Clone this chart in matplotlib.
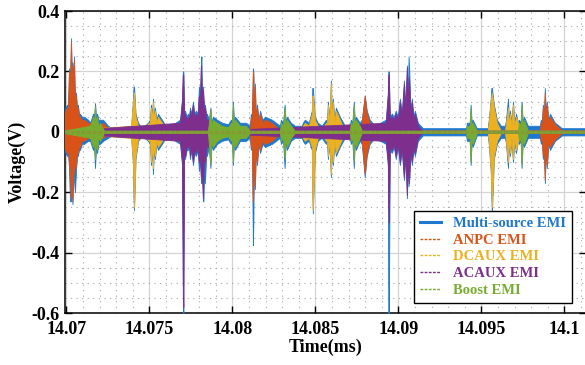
import numpy as np
import matplotlib
matplotlib.use("Agg")
import matplotlib.pyplot as plt
from matplotlib.lines import Line2D
from matplotlib.ticker import FixedLocator, MultipleLocator

plt.rcParams["font.family"] = ["Liberation Serif", "DejaVu Serif"]
plt.rcParams["font.weight"] = "bold"
plt.rcParams["axes.unicode_minus"] = False

# time origin (ms); times below are offsets in microseconds
T0 = 14.07

# waveform envelopes: (time offset us, upper V, lower V)
multi_env = [
    (-0.15, .07, -.06), (0.03, .09, -.08), (0.09, .08, -.07), (0.15, .21, -.12), (0.21, .16, -.23),
    (0.27, .31, -.23), (0.32, .19, -.19), (0.36, .23, -.24), (0.41, .16, -.13), (0.45, .25, -.16),
    (0.51, .11, -.20), (0.57, .13, -.13), (0.63, .08, -.08), (0.69, .09, -.08), (0.75, .06, -.06),
    (0.81, .06, -.06), (0.93, .05, -.04), (1.05, .05, -.04), (1.30, .04, -.03), (1.42, .03, -.03),
    (1.60, .06, -.06), (1.66, .05, -.05), (1.72, .095, -.12), (1.78, .05, -.05), (1.84, .06, -.07),
    (1.93, .04, -.04), (2.02, .04, -.04), (2.20, .04, -.03), (2.50, .02, -.02), (2.74, .012, -.012),
    (3.89, .012, -.012), (4.01, .11, -.11), (4.04, .15, -.22), (4.07, .15, -.26), (4.16, .06, -.09),
    (4.31, .03, -.03), (4.55, .012, -.012),
    (4.91, .03, -.03), (5.03, .04, -.04), (5.09, .09, -.11), (5.15, .05, -.05), (5.21, .11, -.14),
    (5.27, .05, -.05), (5.33, .08, -.09), (5.42, .04, -.04), (5.51, .06, -.06), (5.75, .04, -.04),
    (6.06, .012, -.012),
    (6.84, .04, -.04), (6.96, .11, -.11), (7.01, .20, -.55), (7.04, .20, -.60), (7.08, .07, -.08),
    (7.14, .07, -.09), (7.24, .05, -.06), (7.32, .06, -.06), (7.38, .05, -.05), (7.44, .08, -.09),
    (7.52, .06, -.06), (7.62, .10, -.11), (7.70, .06, -.07), (7.80, .07, -.08), (7.90, .06, -.06),
    (7.98, .15, -.13), (8.04, .11, -.09), (8.10, .23, -.16), (8.13, .25, -.17), (8.16, .13, -.13),
    (8.22, .15, -.23), (8.25, .12, -.23), (8.30, .08, -.10), (8.34, .09, -.17), (8.43, .05, -.06),
    (8.46, .06, -.08), (8.58, .04, -.05), (8.67, .08, -.12), (8.74, .03, -.04), (8.82, .05, -.06),
    (9.07, .04, -.04), (9.37, .03, -.03), (9.73, .025, -.025), (9.91, .04, -.04), (9.97, .03, -.03),
    (10.03, .10, -.11), (10.09, .03, -.03), (10.15, .05, -.06), (10.45, .03, -.03), (10.81, .03, -.03),
    (11.05, .02, -.02), (11.11, .06, -.06), (11.17, .04, -.04), (11.23, .21, -.375), (11.26, .20, -.30),
    (11.29, .07, -.07), (11.35, .16, -.19), (11.41, .05, -.06), (11.48, .09, -.11), (11.57, .04, -.04),
    (11.66, .07, -.07), (11.81, .04, -.04), (11.96, .05, -.05), (12.38, .04, -.04), (12.86, .02, -.02),
    (12.92, .04, -.04), (13.05, .03, -.03), (13.14, .09, -.12), (13.21, .03, -.03), (13.28, .05, -.06),
    (13.52, .03, -.03), (13.76, .02, -.02),
    (14.18, .02, -.02), (14.24, .03, -.03), (14.36, .04, -.04), (14.60, .03, -.03), (14.78, .07, -.06),
    (14.81, .145, -.20), (14.84, .145, -.27), (14.96, .05, -.07), (15.14, .03, -.03), (15.38, .02, -.02),
    (15.63, .04, -.04), (15.69, .03, -.03), (15.75, .10, -.09), (15.84, .04, -.04), (15.93, .17, -.15),
    (15.99, .05, -.05), (16.05, .11, -.11), (16.14, .04, -.04), (16.23, .08, -.08), (16.47, .05, -.05),
    (16.77, .02, -.02),
    (17.07, .02, -.02), (17.13, .04, -.04), (17.22, .03, -.03), (17.31, .10, -.12), (17.37, .03, -.03),
    (17.43, .05, -.06), (17.67, .03, -.03), (17.79, .04, -.04), (17.97, .12, -.15), (18.09, .07, -.08),
    (18.27, .04, -.04), (18.57, .02, -.02),
    (19.24, .04, -.04), (19.36, .13, -.11), (19.39, .20, -.62), (19.42, .20, -.62), (19.48, .05, -.06),
    (19.60, .06, -.07), (19.72, .05, -.05), (19.84, .07, -.09), (19.96, .05, -.05), (20.09, .11, -.11),
    (20.20, .06, -.06), (20.33, .17, -.16), (20.42, .08, -.08), (20.51, .22, -.22), (20.57, .10, -.10),
    (20.61, .25, -.18), (20.66, .19, -.15), (20.72, .07, -.07), (20.81, .11, -.11), (20.90, .05, -.06),
    (20.99, .07, -.08), (21.17, .03, -.03), (21.47, .012, -.012),
    (24.07, .012, -.012), (24.13, .03, -.03), (24.29, .03, -.03), (24.35, .09, -.11), (24.41, .03, -.03),
    (24.47, .04, -.05), (24.72, .012, -.012),
    (25.38, .012, -.012), (25.44, .04, -.04), (25.56, .11, -.13), (25.60, .145, -.22), (25.63, .145, -.27),
    (25.75, .09, -.09), (25.93, .04, -.04), (26.17, .02, -.02),
    (26.42, .02, -.02), (26.48, .04, -.04), (26.60, .11, -.12), (26.66, .03, -.03), (26.72, .07, -.08),
    (26.81, .03, -.03), (26.90, .10, -.10), (26.99, .03, -.03), (27.08, .06, -.07), (27.20, .03, -.03),
    (27.26, .04, -.04), (27.36, .03, -.03), (27.42, .10, -.12), (27.49, .03, -.03), (27.56, .05, -.05),
    (27.80, .02, -.02),
    (28.52, .02, -.02), (28.58, .04, -.04), (28.64, .03, -.03), (28.70, .09, -.09), (28.76, .05, -.06),
    (28.82, .145, -.17), (28.88, .06, -.06), (28.94, .10, -.12), (29.03, .04, -.04), (29.13, .06, -.06),
    (29.43, .03, -.03), (29.85, .012, -.012), (31.30, .012, -.012),
]

anpc_env = [
    (-0.15, .06, -.05), (0.03, .08, -.07), (0.09, .07, -.06), (0.15, .20, -.10), (0.21, .15, -.14),
    (0.27, .30, -.22), (0.32, .18, -.18), (0.36, .22, -.23), (0.41, .15, -.12), (0.45, .24, -.14),
    (0.51, .10, -.09), (0.57, .12, -.12), (0.63, .07, -.06), (0.69, .08, -.07), (0.75, .05, -.05),
    (0.81, .05, -.05), (0.93, .04, -.03), (1.05, .04, -.03), (1.30, .03, -.02), (2.02, .02, -.015),
    (2.20, .03, -.02), (2.50, .012, -.01), (2.74, .004, -.004),
    (11.05, .004, -.004), (11.11, .05, -.05), (11.17, .03, -.03), (11.23, .20, -.23), (11.26, .18, -.20),
    (11.29, .06, -.06), (11.35, .15, -.18), (11.41, .04, -.05), (11.48, .08, -.10), (11.57, .03, -.03),
    (11.66, .06, -.06), (11.81, .03, -.03), (11.96, .04, -.04), (12.38, .03, -.03), (12.86, .004, -.004),
    (17.67, .004, -.004), (17.79, .03, -.03), (17.97, .12, -.14), (18.09, .06, -.07), (18.27, .03, -.03),
    (18.57, .004, -.004),
    (28.52, .004, -.004), (28.58, .03, -.03), (28.64, .02, -.02), (28.70, .08, -.08), (28.76, .04, -.05),
    (28.82, .13, -.16), (28.88, .05, -.05), (28.94, .09, -.11), (29.03, .03, -.03), (29.13, .05, -.05),
    (29.43, .025, -.025), (29.85, .004, -.004), (31.30, .004, -.004),
]

dcaux_env = [
    (-0.15, .004, -.004), (3.89, .02, -.02), (4.01, .10, -.10), (4.04, .12, -.20), (4.07, .13, -.25),
    (4.16, .05, -.08), (4.31, .02, -.02), (4.55, .004, -.004),
    (4.97, .03, -.03), (5.03, .03, -.03), (5.09, .08, -.10), (5.15, .04, -.04), (5.21, .10, -.12),
    (5.27, .04, -.04), (5.33, .07, -.08), (5.42, .03, -.03), (5.51, .05, -.05), (5.75, .03, -.03),
    (6.06, .004, -.004),
    (14.18, .004, -.004), (14.24, .02, -.02), (14.36, .03, -.03), (14.60, .02, -.02), (14.78, .06, -.05),
    (14.81, .12, -.20), (14.84, .12, -.26), (14.96, .04, -.06), (15.14, .02, -.02), (15.38, .004, -.004),
    (15.63, .03, -.03), (15.69, .02, -.02), (15.75, .09, -.08), (15.84, .03, -.03), (15.93, .16, -.14),
    (15.99, .04, -.04), (16.05, .10, -.10), (16.14, .03, -.03), (16.23, .07, -.07), (16.47, .04, -.04),
    (16.77, .004, -.004),
    (25.38, .004, -.004), (25.44, .03, -.03), (25.56, .10, -.12), (25.60, .12, -.20), (25.63, .13, -.25),
    (25.75, .08, -.08), (25.93, .03, -.03), (26.17, .004, -.004),
    (26.42, .004, -.004), (26.48, .03, -.03), (26.60, .08, -.10), (26.66, .02, -.02), (26.72, .06, -.07),
    (26.81, .02, -.02), (26.90, .09, -.09), (26.99, .02, -.02), (27.08, .05, -.06), (27.26, .02, -.02),
    (27.32, .004, -.004), (31.30, .004, -.004),
]

acaux_env = [
    (-0.15, .004, -.004), (6.84, .03, -.03), (6.96, .10, -.10), (7.01, .19, -.50), (7.04, .19, -.58),
    (7.08, .06, -.07), (7.14, .06, -.08), (7.24, .04, -.05), (7.32, .05, -.05), (7.38, .04, -.04),
    (7.44, .07, -.08), (7.52, .05, -.05), (7.62, .09, -.10), (7.70, .05, -.06), (7.80, .06, -.07),
    (7.90, .05, -.05), (7.98, .12, -.10), (8.04, .10, -.08), (8.10, .22, -.15), (8.16, .12, -.12),
    (8.22, .14, -.22), (8.28, .07, -.09), (8.34, .08, -.10), (8.43, .04, -.05), (8.52, .04, -.05),
    (8.76, .004, -.004),
    (19.24, .03, -.03), (19.36, .12, -.10), (19.39, .19, -.25), (19.42, .19, -.30), (19.48, .04, -.05),
    (19.60, .05, -.06), (19.72, .04, -.04), (19.84, .06, -.08), (19.96, .04, -.04), (20.09, .10, -.10),
    (20.20, .05, -.05), (20.33, .16, -.15), (20.42, .07, -.07), (20.51, .215, -.21), (20.57, .09, -.09),
    (20.63, .18, -.17), (20.72, .06, -.06), (20.81, .10, -.10), (20.90, .04, -.05), (20.99, .06, -.07),
    (21.17, .02, -.02), (21.41, .004, -.004), (31.30, .004, -.004),
]

boost_env = [
    (-0.15, .004, -.004), (1.42, .02, -.02), (1.60, .05, -.05), (1.66, .03, -.03), (1.72, .085, -.09),
    (1.78, .03, -.03), (1.84, .05, -.06), (1.93, .02, -.02), (2.02, .03, -.03), (2.26, .004, -.004),
    (8.52, .004, -.004), (8.58, .03, -.04), (8.67, .077, -.11), (8.74, .02, -.03), (8.82, .04, -.05),
    (9.07, .03, -.03), (9.37, .02, -.02), (9.73, .015, -.015), (9.91, .03, -.03), (9.97, .02, -.02),
    (10.03, .09, -.10), (10.09, .02, -.02), (10.15, .04, -.05), (10.45, .02, -.02), (10.81, .02, -.02),
    (11.05, .004, -.004),
    (12.86, .004, -.004), (12.92, .03, -.03), (13.05, .02, -.02), (13.14, .08, -.09), (13.21, .02, -.02),
    (13.28, .04, -.05), (13.52, .02, -.02), (13.76, .004, -.004),
    (17.07, .004, -.004), (17.13, .03, -.03), (17.22, .02, -.02), (17.31, .09, -.10), (17.37, .02, -.02),
    (17.43, .04, -.05), (17.67, .02, -.02), (17.79, .004, -.004),
    (24.07, .004, -.004), (24.13, .02, -.02), (24.29, .02, -.02), (24.35, .08, -.10), (24.41, .02, -.02),
    (24.47, .03, -.04), (24.72, .004, -.004),
    (27.20, .004, -.004), (27.26, .03, -.03), (27.36, .02, -.02), (27.42, .09, -.11), (27.49, .02, -.02),
    (27.56, .04, -.04), (27.80, .004, -.004), (31.30, .004, -.004),
]

labels = ["Multi-source EMI", "ANPC EMI", "DCAUX EMI", "ACAUX EMI", "Boost EMI"]
colors = ["#1f78cf", "#d95319", "#edb120", "#7e2f8e", "#77ac30"]

xticks = [14.07, 14.075, 14.08, 14.085, 14.09, 14.095, 14.1]
xtick_labels = ["14.07", "14.075", "14.08", "14.085", "14.09", "14.095", "14.1"]
yticks = [0.4, 0.2, 0, -0.2, -0.4, -0.6]
ytick_labels = ["0.4", "0.2", "0", "-0.2", "-0.4", "-0.6"]

fig = plt.figure(figsize=(5.85, 3.65), dpi=100)
ax = fig.add_axes([65 / 585, 52 / 365, 521 / 585, 302 / 365])

for env, c in zip([multi_env, anpc_env, dcaux_env, acaux_env, boost_env], colors):
    t, hi, lo = np.array(env).T
    t_ms = T0 + t / 1000
    ax.fill_between(t_ms, lo, hi, facecolor=c, edgecolor=c, lw=0.6, zorder=3)

# dashed zero traces of the single-source curves
for c in colors[1:]:
    ax.axhline(0, color=c, lw=1.0, ls=(0, (2, 2)), zorder=4)

ax.set_xlim(T0 - 0.09 / 1000, T0 + 31.3 / 1000)
ax.set_ylim(-0.6, 0.4)
ax.xaxis.set_major_locator(FixedLocator(xticks))
ax.set_xticklabels(xtick_labels)
ax.yaxis.set_major_locator(FixedLocator(yticks))
ax.set_yticklabels(ytick_labels)
ax.xaxis.set_minor_locator(MultipleLocator(0.001))
ax.yaxis.set_minor_locator(MultipleLocator(0.05))
ax.tick_params(which="major", direction="in", top=True, right=True, length=5, width=1,
               labelsize=13)
ax.tick_params(axis="x", which="major", pad=6)
ax.tick_params(axis="y", which="major", pad=4)
ax.tick_params(which="minor", length=0)
ax.grid(which="major", color="#d4d4d4", lw=0.9)
ax.grid(which="minor", color="#a8a8a8", lw=0.8, ls=(0, (1, 4)))
ax.set_axisbelow(True)
for s in ax.spines.values():
    s.set_linewidth(1.1)

ax.set_xlabel("Time(ms)", fontsize=13, fontweight="bold", labelpad=0)
ax.set_ylabel("Voltage(V)", fontsize=13, fontweight="bold", labelpad=4)

handles = [Line2D([], [], color=colors[0], lw=2.2)]
for c in colors[1:]:
    handles.append(Line2D([], [], color=c, lw=1.0, ls=(0, (2, 1))))
leg = ax.legend(handles, labels, loc="lower right", bbox_to_anchor=(0.973, 0.033),
                prop={"weight": "bold", "size": 10.5}, frameon=True, fancybox=False, framealpha=1,
                edgecolor="black", handlelength=1.5, handletextpad=0.8, labelspacing=0.25,
                borderpad=0.4, borderaxespad=0)
leg.get_frame().set_linewidth(1.0)
for txt, c in zip(leg.get_texts(), colors):
    txt.set_color(c)
leg.set_zorder(10)

fig.savefig("out.png", dpi=100)
